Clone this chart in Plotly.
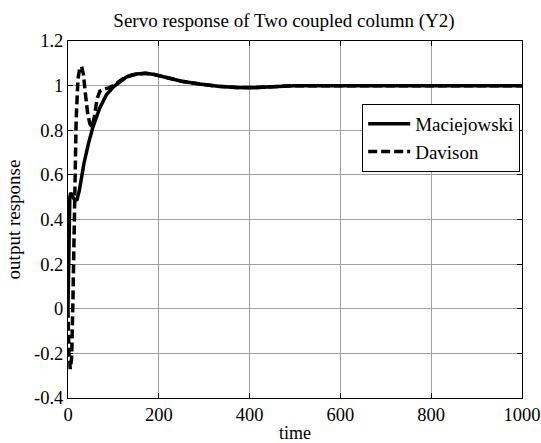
import plotly.graph_objects as go

t_mac = [0, 2, 4, 6, 10, 15, 20, 25, 30, 35, 45, 55, 70, 85, 100, 115, 130, 150, 170, 190, 210, 250, 290, 330, 370, 410, 450, 500, 600, 700, 800, 900, 1000]
y_mac = [0, 0.3, 0.5, 0.52, 0.5, 0.485, 0.49, 0.53, 0.59, 0.65, 0.74, 0.815, 0.9, 0.96, 0.995, 1.02, 1.04, 1.052, 1.055, 1.05, 1.04, 1.02, 1.007, 0.997, 0.992, 0.991, 0.995, 1.0, 1.0, 1.0, 1.0, 1.0, 1.0]

t_dav = [0, 2, 5, 8, 11, 14, 18, 22, 26, 30, 34, 38, 43, 48, 53, 58, 64, 70, 80, 90, 100, 120, 140, 170, 190, 210, 250, 290, 330, 370, 410, 450, 500, 600, 700, 800, 900, 1000]
y_dav = [0, -0.2, -0.27, -0.22, 0.05, 0.45, 0.85, 1.03, 1.08, 1.085, 1.05, 0.97, 0.88, 0.83, 0.815, 0.86, 0.94, 0.975, 0.985, 0.99, 1.0, 1.03, 1.048, 1.055, 1.05, 1.04, 1.02, 1.007, 0.997, 0.992, 0.991, 0.995, 1.0, 1.0, 1.0, 1.0, 1.0, 1.0]

x_ticks = [0, 200, 400, 600, 800, 1000]
x_labels = ["0", "200", "400", "600", "800", "1000"]
y_ticks = [-0.4, -0.2, 0, 0.2, 0.4, 0.6, 0.8, 1, 1.2]
y_labels = ["-0.4", "-0.2", "0", "0.2", "0.4", "0.6", "0.8", "1", "1.2"]

FONT = "Liberation Serif"

fig = go.Figure()
fig.add_trace(go.Scatter(x=t_mac, y=y_mac, mode="lines", name="Maciejowski",
                         line=dict(color="black", width=3.5)))
fig.add_trace(go.Scatter(x=t_dav, y=y_dav, mode="lines", name="Davison",
                         line=dict(color="black", width=3.5, dash="9px,4px")))

axis_common = dict(showline=True, linecolor="black", linewidth=1, mirror="ticks",
                   ticks="inside", ticklen=5, tickcolor="black", automargin=False,
                   showgrid=True, gridcolor="#a0a0a0", gridwidth=1, zeroline=False,
                   tickfont=dict(family=FONT, size=18.5, color="black"))

fig.update_layout(
    width=541, height=443,
    margin=dict(l=68, r=19, t=41, b=45),
    paper_bgcolor="white", plot_bgcolor="white",
    font=dict(family=FONT, color="black"),
    title=dict(text="Servo response of Two coupled column (Y2)", x=0.525, xanchor="center",
               y=0.953, yanchor="middle", font=dict(family=FONT, size=19, color="black")),
    xaxis=dict(range=[0, 1000], tickvals=x_ticks, ticktext=x_labels,
               title=dict(text="time", font=dict(family=FONT, size=18), standoff=6), **axis_common),
    yaxis=dict(range=[-0.4, 1.2], tickvals=y_ticks, ticktext=y_labels,
               title=dict(text="output response", font=dict(family=FONT, size=19), standoff=8), **axis_common),
    legend=dict(x=0.996, y=0.824, xanchor="right", yanchor="top",
                bgcolor="white", bordercolor="black", borderwidth=1,
                font=dict(family=FONT, size=19, color="black"),
                tracegroupgap=0, itemwidth=42),
    showlegend=True,
)

fig.write_html("out.html", config={"displayModeBar": False},
               post_script="document.body.style.margin='0';document.body.style.overflow='hidden';")
